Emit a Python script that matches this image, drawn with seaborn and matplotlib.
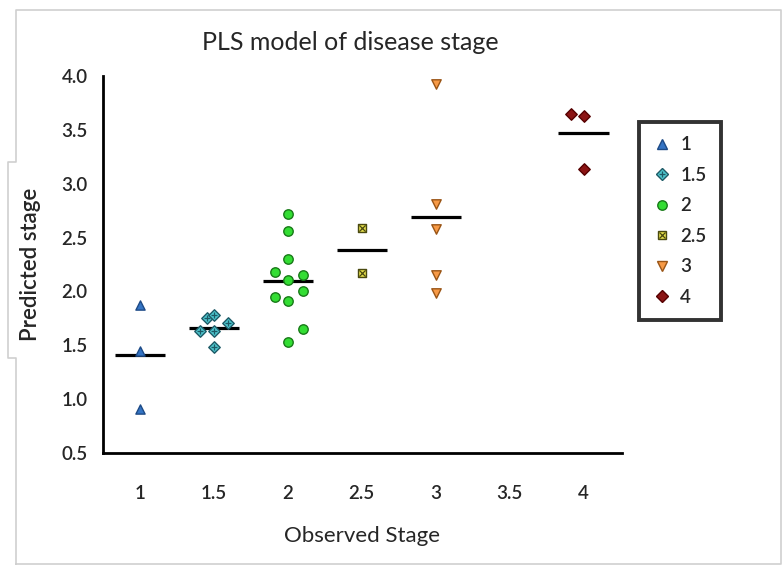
import numpy as np
import pandas as pd
import matplotlib
matplotlib.use("Agg")
import matplotlib.pyplot as plt
from matplotlib.lines import Line2D
import seaborn as sns

# ── Data ──────────────────────────────────────────────────────────────────────
stages = ["1", "1.5", "2", "2.5", "3", "4"]
observed = [1.0, 1.5, 2.0, 2.5, 3.0, 4.0]
pred_1 = [1.87, 1.45, 0.91]
pred_15 = [1.75, 1.78, 1.71, 1.63, 1.63, 1.48]
pred_2 = [2.72, 2.56, 2.30, 2.18, 2.15, 2.11, 2.00, 1.95, 1.91, 1.65, 1.53]
pred_25 = [2.59, 2.17]
pred_3 = [3.93, 2.81, 2.58, 2.15, 1.99]
pred_4 = [3.65, 3.63, 3.14]
# horizontal scatter of overlapping points (in stage units)
jit_1 = [0, 0, 0]
jit_15 = [-0.05, 0, 0.095, -0.095, 0, 0]
jit_2 = [0, 0, 0, -0.088, 0.1, 0, 0.1, -0.088, 0, 0.1, 0]
jit_25 = [0, 0]
jit_3 = [0, 0, 0, 0, 0]
jit_4 = [-0.087, 0, 0]

preds = [pred_1, pred_15, pred_2, pred_25, pred_3, pred_4]
jits = [jit_1, jit_15, jit_2, jit_25, jit_3, jit_4]

rows = []
for lab, obs, p, j in zip(stages, observed, preds, jits):
    for v, dx in zip(p, j):
        rows.append({"stage": lab, "observed": obs + dx, "predicted": v})
df = pd.DataFrame(rows)

# ── Style per group: marker, fill, edge, inner overlay marker ─────────────────
STYLE = {
    "1":   dict(marker="^", fc="#3474c4", ec="#1d4a86", s=44, inner=None),
    "1.5": dict(marker="D", fc="#4cc4cc", ec="#1e5a66", s=34, inner="+"),
    "2":   dict(marker="o", fc="#33dd33", ec="#187a18", s=46, inner=None),
    "2.5": dict(marker="s", fc="#e6df4c", ec="#4a4a10", s=40, inner="x"),
    "3":   dict(marker="v", fc="#f79a46", ec="#9a5516", s=46, inner=None),
    "4":   dict(marker="D", fc="#8b1414", ec="#560000", s=34, inner=None),
}

FONT = ["Lato", "DejaVu Sans"]
sns.set_style("white")
plt.rcParams["font.family"] = FONT

fig = plt.figure(figsize=(7.84, 5.77), dpi=100)
ax = fig.add_axes([103 / 784, 1 - 453 / 577, (622 - 103) / 784, (453 - 76) / 577])

handles = []
for lab, obs in zip(stages, observed):
    st = STYLE[lab]
    sub = df[df["stage"] == lab]
    sns.scatterplot(data=sub, x="observed", y="predicted", marker=st["marker"],
                    color=st["fc"], edgecolor=st["ec"], linewidth=1.0,
                    s=st["s"], ax=ax, zorder=3, legend=False)
    h = [Line2D([], [], linestyle="none", marker=st["marker"],
                markerfacecolor=st["fc"], markeredgecolor=st["ec"],
                markersize=np.sqrt(st["s"]), markeredgewidth=1.0)]
    if st["inner"]:
        sns.scatterplot(data=sub, x="observed", y="predicted", marker=st["inner"],
                        color=st["ec"], linewidth=0.9, s=st["s"] * 0.5,
                        ax=ax, zorder=4, legend=False)
        h.append(Line2D([], [], linestyle="none", marker=st["inner"],
                        color=st["ec"], markersize=np.sqrt(st["s"] * 0.5),
                        markeredgewidth=0.9))
    handles.append(tuple(h))
    # group mean bar
    m = sub["predicted"].mean()
    ax.hlines(m, obs - 0.17, obs + 0.17, color="black", linewidth=2.3, zorder=2)

ax.set_xlim(0.75, 4.26)
ax.set_ylim(0.5, 4.0)
ax.set_xticks([1, 1.5, 2, 2.5, 3, 3.5, 4])
ax.set_xticklabels(["1", "1.5", "2", "2.5", "3", "3.5", "4"])
ax.set_yticks(np.arange(0.5, 4.01, 0.5))
ax.set_yticklabels([f"{v:.1f}" for v in np.arange(0.5, 4.01, 0.5)])
for side in ["top", "right"]:
    ax.spines[side].set_visible(False)
for side in ["left", "bottom"]:
    ax.spines[side].set_linewidth(2.0)
    ax.spines[side].set_color("black")
ax.tick_params(axis="both", direction="out", length=6, width=2.0, color="black",
               labelsize=13.5)
ax.tick_params(axis="x", pad=17)
ax.tick_params(axis="y", pad=5)
for t in ax.get_xticklabels() + ax.get_yticklabels():
    t.set_fontweight("semibold")
ax.grid(False)
ax.set_xlabel("Observed Stage", fontsize=16, labelpad=17)
ax.set_ylabel("Predicted stage", fontsize=16, labelpad=15, fontweight="semibold")

fig.text(350 / 784, 1 - 43 / 577, "PLS model of disease stage", fontsize=18,
         ha="center", va="center")

leg = fig.legend(handles, stages, loc="upper left",
                 bbox_to_anchor=(639 / 784, 1 - 122 / 577), frameon=True,
                 fancybox=False, edgecolor="black", fontsize=13.5,
                 handlelength=1.0, handletextpad=0.45, labelspacing=0.72,
                 borderpad=0.75, borderaxespad=0)
leg.get_frame().set_linewidth(2.8)
for t in leg.get_texts():
    t.set_fontweight("semibold")

# light grey frame of the original screenshot
gx = [16, 16, 8, 8, 16, 16, 781, 781, 16]
gy = [564, 358, 358, 162, 162, 10, 10, 564, 564]
fig.add_artist(Line2D([x / 784 for x in gx], [1 - y / 577 for y in gy],
                      color="#cfcfcf", linewidth=1.2, transform=fig.transFigure))

fig.savefig("out.png", dpi=100)
